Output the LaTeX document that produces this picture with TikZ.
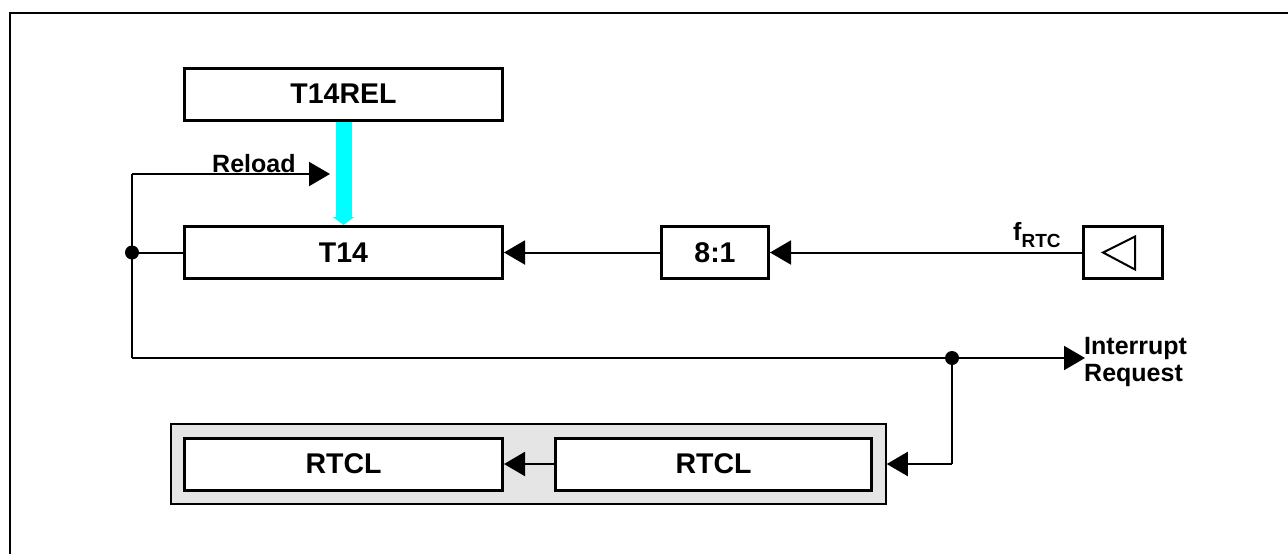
\documentclass[tikz,border=0pt]{standalone}
\usepackage{fontspec}
\setmainfont{Liberation Sans}
\usetikzlibrary{arrows.meta,calc}
\definecolor{panelgray}{HTML}{E5E5E5}
\definecolor{reloadcyan}{HTML}{00FFFF}
\tikzset{
  blk/.style={draw=black,line width=3pt,fill=white,inner sep=0pt,minimum height=52pt,
    font=\fontsize{28.5}{30}\selectfont\bfseries},
  conn/.style={line width=2pt,-{Triangle[length=21pt,width=24pt]}},
  wire/.style={line width=2pt},
  lbl/.style={inner sep=0pt,font=\fontsize{25}{27}\selectfont\bfseries},
  dotc/.style={circle,fill=black,inner sep=0pt,minimum size=14pt}
}
\begin{document}
\begin{tikzpicture}[x=1pt,y=-1pt]
\useasboundingbox (0,0) rectangle (1288,554);
% frame (right and bottom sides lie outside)
\draw[line width=2.5pt] (10,560) -- (10,13) -- (1295,13);

% blocks
\node[blk,minimum width=318pt] (rel) at (343.5,94) {T14REL};
\node[blk,minimum width=318pt] (t14) at (343.5,252.5) {T14};
\node[blk,minimum width=107pt] (div) at (715,252.5) {8:1};
\node[blk,minimum width=79pt] (osc) at (1123,252.5) {};
\draw[line width=2pt,line join=miter] ($(osc.center)+(-20,0)$) -- ($(osc.center)+(12,-16)$) -- ($(osc.center)+(12,17)$) -- cycle;

% RTCL panel
\node[draw=black,line width=1.5pt,fill=panelgray,minimum width=715pt,minimum height=80pt,inner sep=0pt] (panel) at (528.5,464) {};
\node[blk,minimum width=318pt] (rtcl1) at (343.5,464) {RTCL};
\node[blk,minimum width=316pt] (rtcl2) at (713.5,464) {RTCL};

% junctions
\coordinate (ctop) at (132,174);
\node[dotc] (d1) at (132,252.5) {};
\coordinate (cbot) at (132,358);
\node[dotc] (d2) at (952,358) {};
\coordinate (ctip) at (330,174);
\coordinate (irq) at (1085,358);
\coordinate (cdown) at (952,464);

% reload data path (cyan)
\draw[reloadcyan,line width=16pt,-{Triangle[length=8pt,width=21pt]}] (rel.south) -- (t14.north);

% connectors
\draw[conn] (div.west) -- (t14.east);
\draw[conn] (osc.west) -- (div.east);
\draw[wire] (t14.west) -- (d1.center);
\draw[wire] (cbot) -- (ctop);
\draw[conn] (ctop) -- (ctip);
\draw[conn] (cbot) -- (irq);
\draw[wire] (d2.center) -- (cdown);
\draw[conn] (cdown) -- (panel.east);
\draw[conn] (rtcl2.west) -- (rtcl1.east);

% labels
\node[lbl,anchor=base west] (reloadlbl) at (212,172) {Reload};
\node[lbl,anchor=base west] (frtc) at (1013,240) {f\raisebox{-7pt}{\fontsize{19}{19}\selectfont RTC}};
\node[lbl,anchor=north west,align=left] (irqlbl) at (1084,337) {Interrupt\\Request};
\end{tikzpicture}
\end{document}
